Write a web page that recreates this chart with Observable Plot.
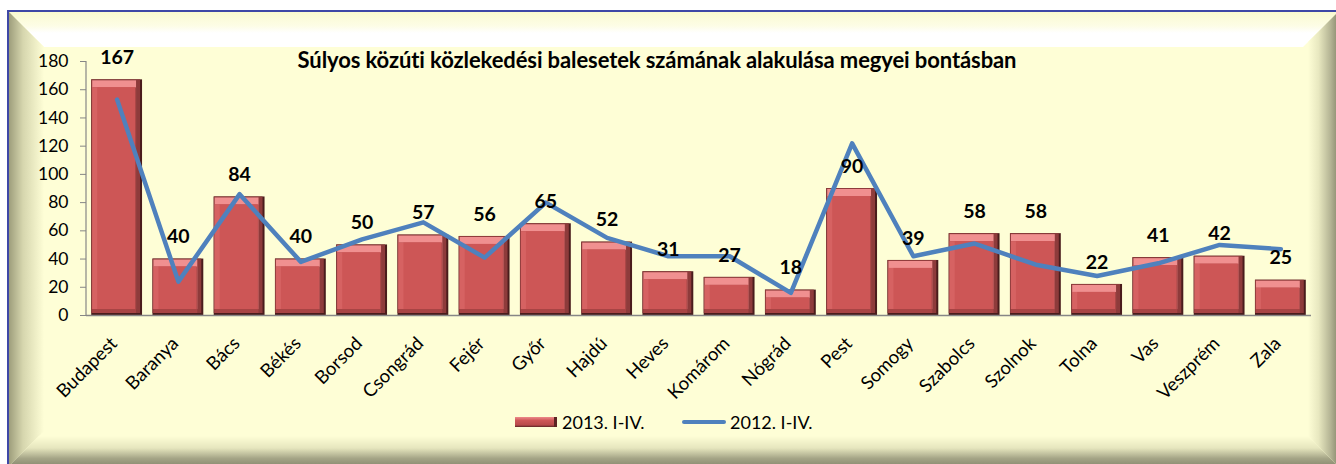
<!DOCTYPE html>
<html>
<head>
<meta charset="utf-8">
<script src="https://cdn.jsdelivr.net/npm/d3@7"></script>
<script src="https://cdn.jsdelivr.net/npm/@observablehq/plot@0.6"></script>
<style>
  html, body { margin: 0; padding: 0; background: #fff; overflow: hidden; }
  body { width: 1336px; height: 464px; position: relative; font-family: Lato, "Open Sans", sans-serif; }
  #frame { position: absolute; left: 7px; top: 10px; width: 1329px; height: 454px; background: #FEFED6;
           border-top: 2px solid #3E47A6; border-left: 2px solid #3E47A6; overflow: hidden; }
  .bev { position: absolute; }
  #bt { left: 0; top: 0; width: 1329px; height: 35px; clip-path: polygon(0 0, 100% 0, calc(100% - 35px) 100%, 35px 100%);
        background: linear-gradient(to bottom, #FAFAD0 0%, #FDFDE6 40%, #FFFFFF 60%, #FFFFFF 100%); }
  #bl { left: 0; top: 0; width: 35px; height: 454px; clip-path: polygon(0 0, 100% 35px, 100% calc(100% - 35px), 0 100%);
        background: linear-gradient(to right, #9E9E7C 0%, #D6D6AE 40%, #FEFED6 100%); }
  #bb { left: 0; top: 424px; width: 1329px; height: 30px; clip-path: polygon(30px 0, calc(100% - 30px) 0, 100% 100%, 0 100%);
        background: linear-gradient(to bottom, #FEFED6 0%, #E6E6BE 40%, #A4A486 75%, #8A8A70 100%); }
  #br { left: 1299px; top: 0; width: 30px; height: 454px; clip-path: polygon(0 30px, 100% 0, 100% 100%, 0 calc(100% - 30px));
        background: linear-gradient(to right, #FEFED6 0%, #E8E8C0 35%, #B4B494 75%, #8C8C70 100%); }
  #title { position: absolute; left: 0; width: 1314px; top: 46px; text-align: center; font-weight: bold; font-size: 22px; color: #000; letter-spacing: -0.1px; }
  #chart { position: absolute; left: 0; top: 0; }
  #legend { position: absolute; top: 411px; left: 0; width: 1336px; height: 22px; font-size: 18px; color: #000; }
  .lg { position: absolute; top: 0; line-height: 22px; }
</style>
</head>
<body>
<div id="frame">
  <div class="bev" id="bt"></div>
  <div class="bev" id="bl"></div>
  <div class="bev" id="bb"></div>
  <div class="bev" id="br"></div>
</div>
<div id="title">Súlyos közúti közlekedési balesetek számának alakulása megyei bontásban</div>
<div id="chart"></div>
<div id="legend">
  <div class="lg" style="left:515px;top:6px;width:42px;height:10px;background:linear-gradient(to bottom,#EE8A8A 0%,#CD5757 35%,#B84A4A 80%,#5C2424 100%);border-right:3px solid #5C2424;box-sizing:border-box;"></div>
  <div class="lg" style="left:562px;" id="lg1"></div>
  <div class="lg" style="left:682px;top:9px;width:44px;height:4px;border-radius:2px;background:#4F81BD;"></div>
  <div class="lg" style="left:730px;" id="lg2"></div>
</div>
<script>
const counties = ["Budapest","Baranya","Bács","Békés","Borsod","Csongrád","Fejér","Győr","Hajdú","Heves","Komárom","Nógrád","Pest","Somogy","Szabolcs","Szolnok","Tolna","Vas","Veszprém","Zala"];
const values2013 = [167,40,84,40,50,57,56,65,52,31,27,18,90,39,58,58,22,41,42,25];
const values2012 = [153,24,86,38,54,66,41,80,55,42,42,16,122,42,51,36,28,37,50,47];
const yTicks = [0,20,40,60,80,100,120,140,160,180];
const seriesNames = ["2013. I-IV.","2012. I-IV."];

document.getElementById("lg1").textContent = seriesNames[0];
document.getElementById("lg2").textContent = seriesNames[1];

const data = counties.map((c, i) => ({county: c, v13: values2013[i], v12: values2012[i]}));

const axisLine = (index, scales, values, dim) => {
  const g = d3.create("svg:line")
    .attr("x1", dim.marginLeft).attr("x2", dim.marginLeft)
    .attr("y1", dim.marginTop).attr("y2", dim.height - dim.marginBottom)
    .attr("stroke", "#868686").attr("stroke-width", 1.2);
  return g.node();
};

const chart = Plot.plot({
  width: 1336,
  height: 464,
  marginLeft: 86,
  marginRight: 25,
  marginTop: 61,
  marginBottom: 149,
  style: {background: "transparent", fontFamily: "Lato, 'Open Sans', sans-serif", fontSize: "17px", color: "#000", overflow: "visible"},
  x: {domain: counties, paddingInner: 0.17, paddingOuter: 0.085, round: false, label: null},
  y: {domain: [0, 180], label: null},
  marks: [
    Plot.barY(data, {x: "county", y: "v13", fill: "#4A1C1C"}),
    Plot.barY(data, {x: "county", y: "v13", fill: "#8E3B3B", insetRight: 2, insetBottom: 2}),
    Plot.barY(data, {x: "county", y: "v13", fill: "#F09090", insetLeft: 1, insetRight: 6, insetTop: 1, insetBottom: 6}),
    Plot.barY(data, {x: "county", y: "v13", fill: "#A84444", insetLeft: 1, insetRight: 6, insetTop: 8, insetBottom: 2}),
    Plot.barY(data, {x: "county", y: "v13", fill: "#D66262", insetLeft: 1, insetRight: 7, insetTop: 8, insetBottom: 6}),
    Plot.barY(data, {x: "county", y: "v13", fill: "#CD5656", insetLeft: 6, insetRight: 7, insetTop: 8, insetBottom: 6}),
    Plot.ruleY([0], {stroke: "#868686", strokeWidth: 1.5}),
    axisLine,
    Plot.axisY({ticks: yTicks, tickSize: 6, tickPadding: 12, stroke: "#868686", fill: "#000", label: null, fontSize: 17.5}),
    Plot.axisX({tickRotate: -45, tickSize: 0, tickPadding: 14, dx: -3, dy: 11, label: null, fill: "#000", fontSize: 18.5}),
    Plot.lineY(data, {x: "county", y: "v12", stroke: "#4F81BD", strokeWidth: 4.5, strokeLinejoin: "round", strokeLinecap: "round"}),
    Plot.text(data, {x: "county", y: "v13", text: d => String(d.v13), dy: -22, fontWeight: "bold", fontSize: 19.5, fill: "#000"})
  ]
});
document.getElementById("chart").appendChild(chart);
</script>
</body>
</html>
